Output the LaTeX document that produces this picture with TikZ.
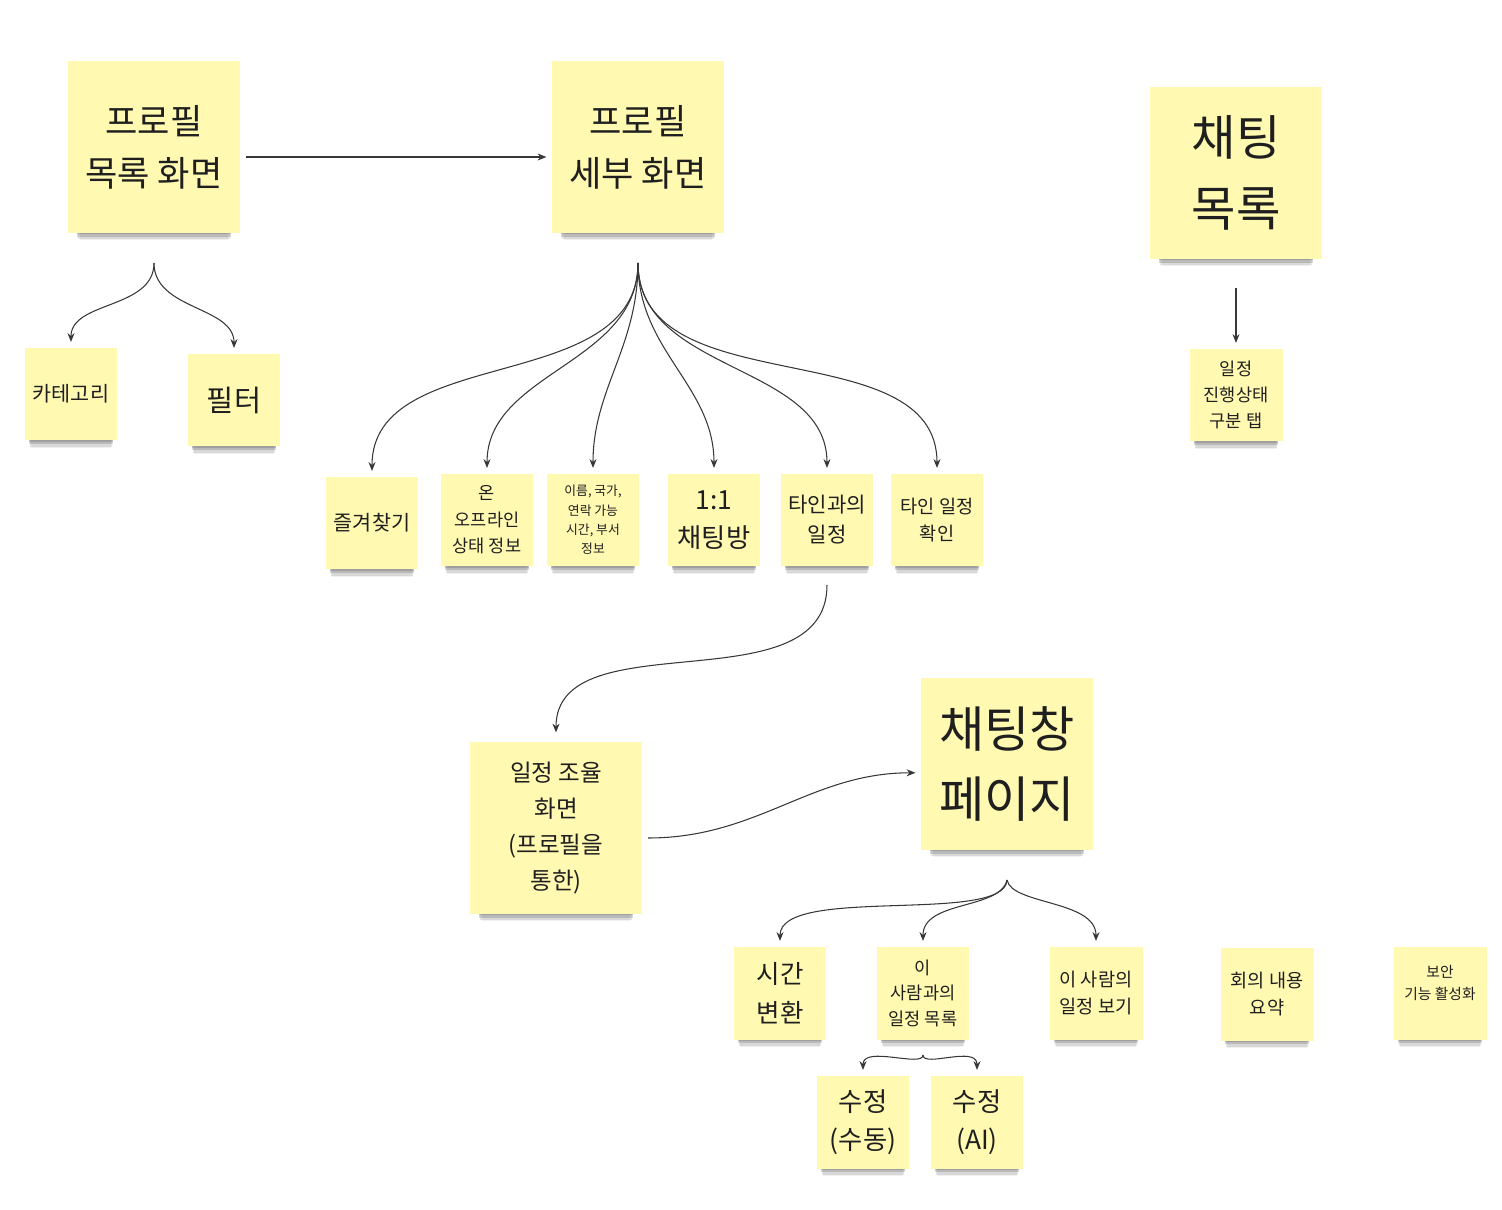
\documentclass[tikz,border=0pt]{standalone}
\usepackage{fontspec}
\setmainfont{Noto Sans CJK KR}
\usetikzlibrary{arrows.meta,shadows}

\definecolor{stickyyellow}{RGB}{255,249,177}
\definecolor{inkgray}{RGB}{55,55,55}
\newcommand{\notefont}[2]{\fontsize{#1pt}{#2pt}\selectfont}

\tikzset{
  note/.style={fill=stickyyellow, align=center, text=black!88, inner sep=0pt},
  bignote/.style={note, minimum width=3.44cm, minimum height=3.46cm,
    general shadow={fill=black, opacity=0.14, shadow scale=0.9, shadow yshift=-6pt},
    general shadow={fill=black, opacity=0.14, shadow scale=0.9, shadow yshift=-7.7pt},
    general shadow={fill=black, opacity=0.10, shadow scale=0.88, shadow yshift=-10pt},
    general shadow={fill=black, opacity=0.06, shadow scale=0.86, shadow yshift=-12.5pt}},
  smallnote/.style={note, minimum width=1.86cm, minimum height=1.86cm,
    general shadow={fill=black, opacity=0.14, shadow scale=0.9, shadow yshift=-3.7pt},
    general shadow={fill=black, opacity=0.14, shadow scale=0.9, shadow yshift=-5.4pt},
    general shadow={fill=black, opacity=0.10, shadow scale=0.88, shadow yshift=-7.6pt},
    general shadow={fill=black, opacity=0.06, shadow scale=0.86, shadow yshift=-9.6pt}},
  link/.style={draw=inkgray, line width=0.6pt, -{Stealth[length=5pt,width=4pt]}, shorten >=3pt},
}

\begin{document}
\begin{tikzpicture}[x=0.02cm, y=-0.02cm]

\useasboundingbox (0,0) rectangle (1502,1210);

% profile screens
\node[bignote, font=\notefont{20}{29.6}] (profList) at (154,147) {프로필\\목록 화면};
\node[bignote, font=\notefont{20}{29.6}] (profDetail) at (638,147) {프로필\\세부 화면};
\node[bignote, font=\notefont{27.5}{40}] (chatList) at (1236,173) {채팅\\목록};

\node[smallnote, font=\notefont{11.8}{15}] (category) at (71,394) {카테고리};
\node[smallnote, font=\notefont{16.8}{20}] (filter) at (234,400) {필터};

\node[smallnote, font=\notefont{11.8}{15}] (favorite) at (372,523) {즐겨찾기};
\node[smallnote, font=\notefont{10}{15}] (status) at (487,520) {온\\오프라인\\상태 정보};
\node[smallnote, font=\notefont{7.3}{11}] (info) at (593,520) {이름, 국가,\\연락 가능\\시간, 부서\\정보};
\node[smallnote, font=\notefont{15}{21.6}] (dmRoom) at (714,520) {1:1\\채팅방};
\node[smallnote, font=\notefont{12}{17}] (withOther) at (827,520) {타인과의\\일정};
\node[smallnote, font=\notefont{10.6}{15}] (otherSched) at (937,520) {타인 일정\\확인};

\node[smallnote, font=\notefont{10}{15}] (progressTab) at (1236,395) {일정\\진행상태\\구분 탭};

% schedule / chat page
\node[bignote, font=\notefont{13.4}{20.5}] (schedAdjust) at (556,828) {일정 조율\\화면\\(프로필을\\통한)};
\node[bignote, font=\notefont{28}{40}] (chatPage) at (1007,764) {채팅창\\페이지};

\node[smallnote, font=\notefont{14.5}{22}] (timeConv) at (780,993) {시간\\변환};
\node[smallnote, font=\notefont{10}{14.5}] (personList) at (923,993) {이\\사람과의\\일정 목록};
\node[smallnote, font=\notefont{10.6}{15.4}] (personView) at (1096,993) {이 사람의\\일정 보기};
\node[smallnote, font=\notefont{10.6}{15.4}] (summary) at (1267,994) {회의 내용\\요약};
\node[smallnote, font=\notefont{8.4}{12.5}] (security) at (1440,993) {보안\\기능 활성화\\\mbox{}};

\node[smallnote, font=\notefont{15}{21.6}] (editManual) at (863,1122) {수정\\(수동)};
\node[smallnote, font=\notefont{15}{21.6}] (editAI) at (977,1122) {수정\\(AI)};

% connectors
\draw[link, shorten <=3pt] ([yshift=-5.7pt]profList.east) -- ([yshift=-5.7pt]profDetail.west);

\coordinate (profListOut) at (154,263);
\draw[link] (profListOut) to[out=-90,in=90] (category.north);
\draw[link] (profListOut) to[out=-90,in=90] (filter.north);

\coordinate (profDetailOut) at (638,263);
\foreach \n in {favorite,status,info,dmRoom,withOther,otherSched}
  \draw[link] (profDetailOut) to[out=-90,in=90] (\n.north);

\coordinate (chatListOut) at (1236,288);
\draw[link] (chatListOut) -- (progressTab.north);

\coordinate (withOtherOut) at (827,585);
\draw[link, shorten >=5pt] (withOtherOut) to[out=-90,in=90] (schedAdjust.north);

\coordinate (schedAdjustOut) at (648,838);
\draw[link] (schedAdjustOut) to[out=0,in=180] ([yshift=-5pt]chatPage.west);

\coordinate (chatPageOut) at (1007,880);
\draw[link] (chatPageOut) .. controls (1005,925) and (780,885) .. (timeConv.north);
\draw[link] (chatPageOut) .. controls (1000,910) and (923,900) .. (personList.north);
\draw[link] (chatPageOut) .. controls (1012,905) and (1096,900) .. (personView.north);

\coordinate (personListOut) at (923,1055);
\draw[link] (personListOut) .. controls (923,1068) and (863,1045) .. (editManual.north);
\draw[link] (personListOut) .. controls (923,1068) and (977,1045) .. (editAI.north);

\end{tikzpicture}
\end{document}
